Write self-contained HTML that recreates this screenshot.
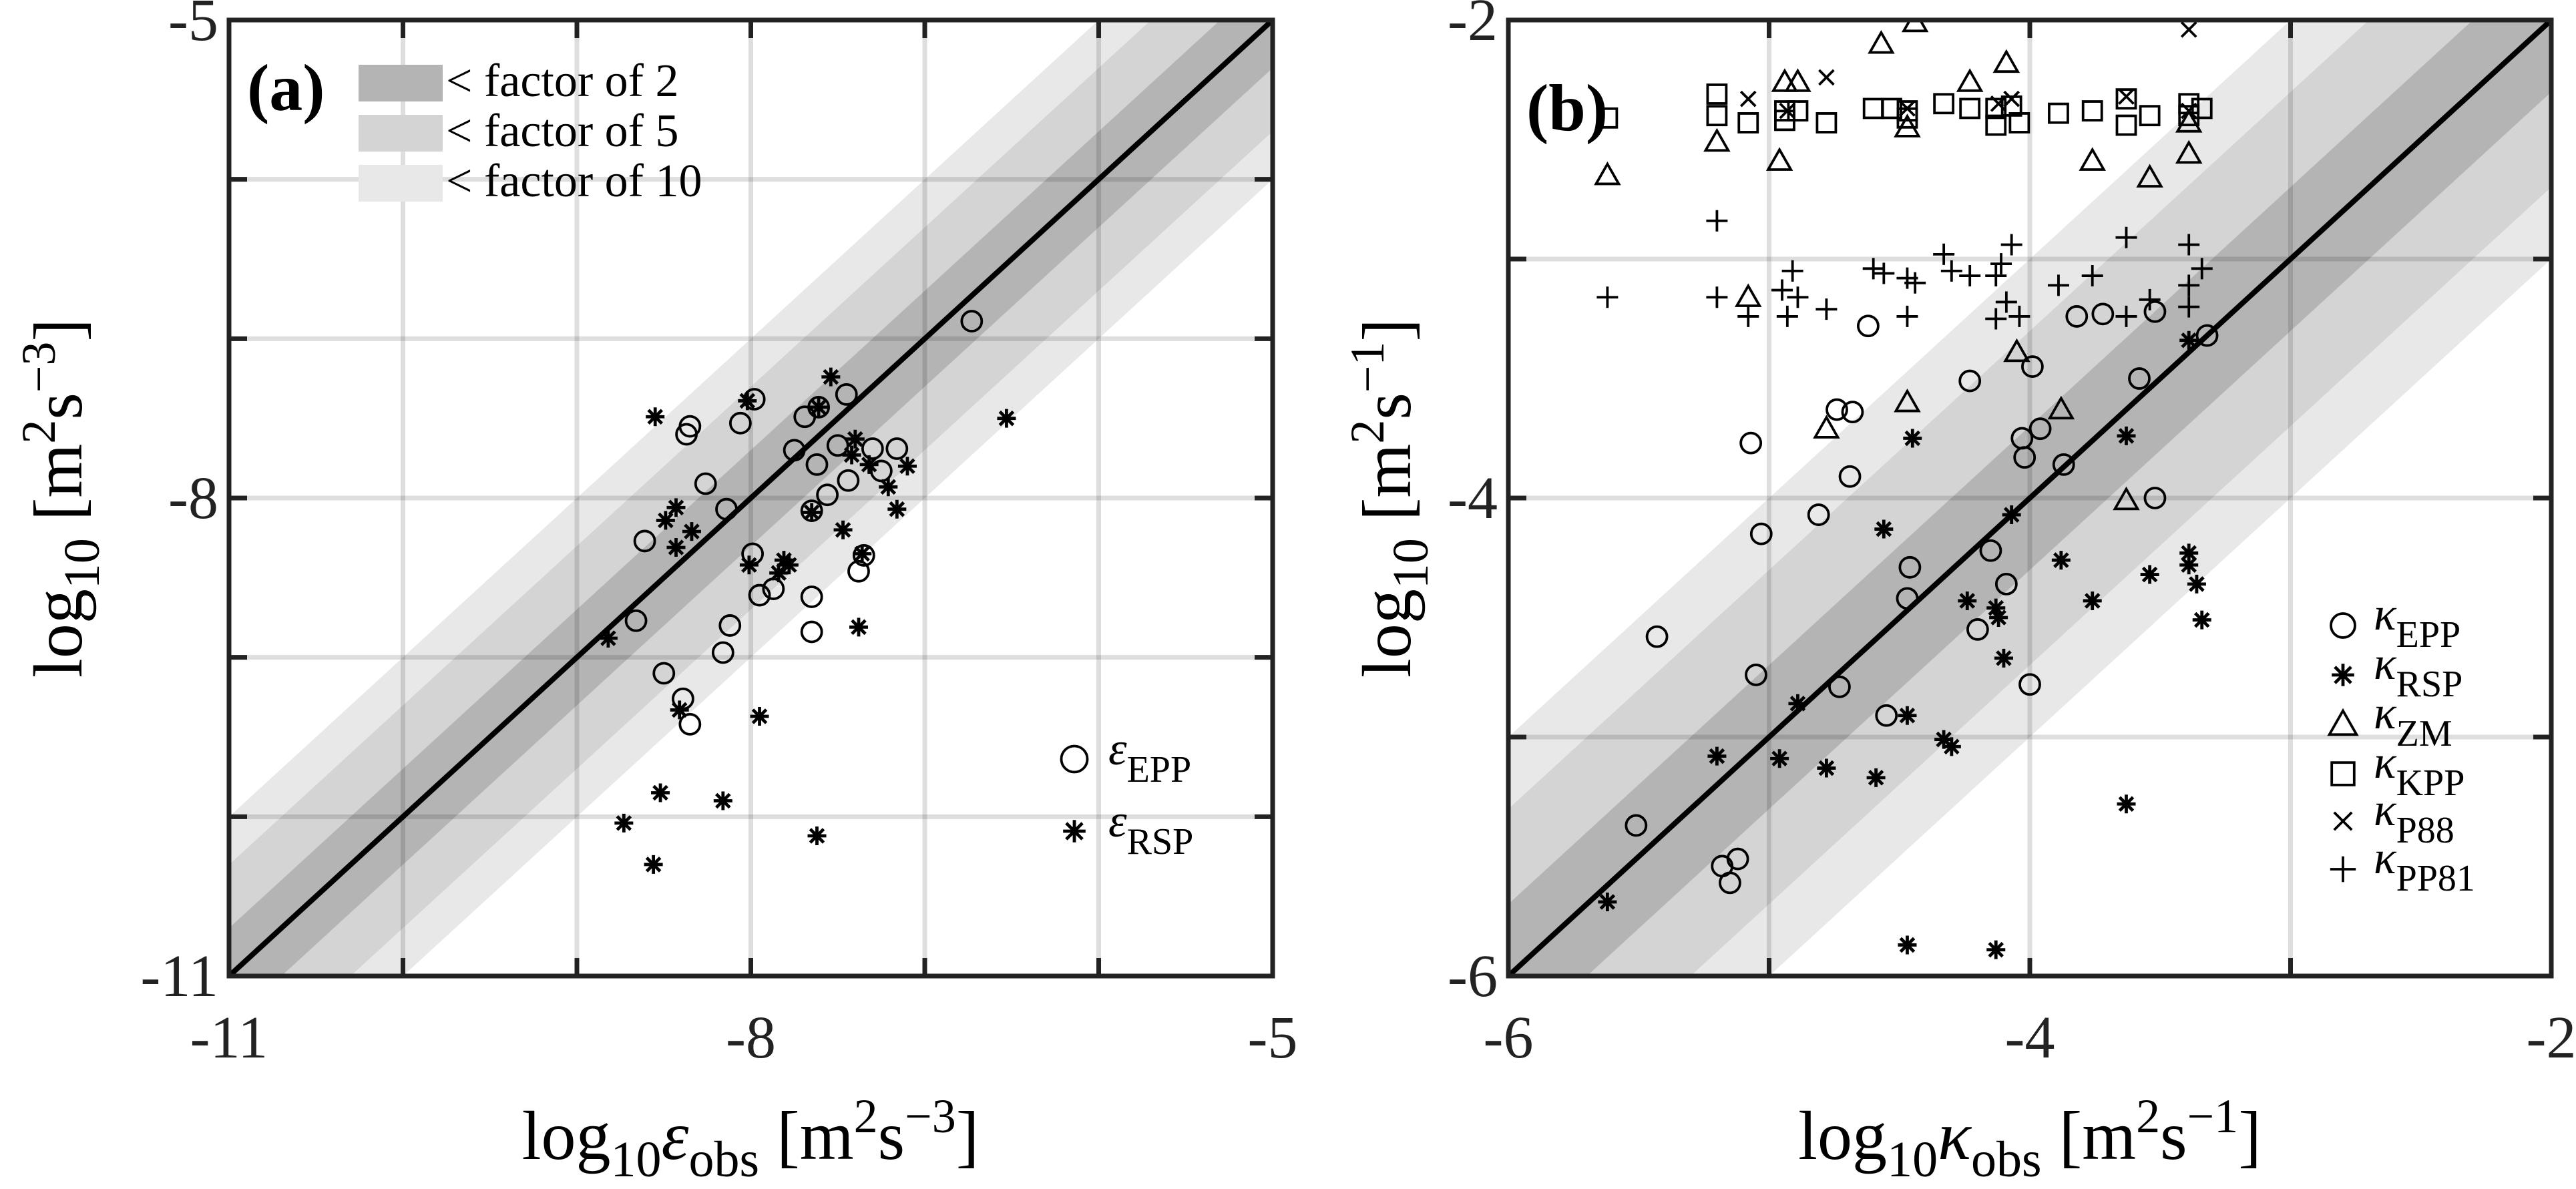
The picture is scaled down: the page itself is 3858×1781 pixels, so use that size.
<!DOCTYPE html>
<html><head><meta charset="utf-8"><style>
html,body{margin:0;padding:0;background:#fff;overflow:hidden;}
svg{display:block;font-family:"Liberation Serif",serif;}
</style></head><body>
<svg id="fig" width="3858" height="1781" viewBox="0 0 3858 1781" xmlns="http://www.w3.org/2000/svg">
<g id="pa"></g>
<g id="pb"></g>
</svg>
<script>
// ---- Panel (a) data ----
const aEppX=[-6.73,-7.98,-8.06,-8.35,-8.37,-7.69,-7.61,-7.45,-7.75,-7.50,-7.30,-7.16,-7.25,-7.62,-7.44,-7.56,-8.26,-8.14,-7.65,-8.61,-7.99,-7.35,-7.38,-7.87,-7.95,-7.65,-8.66,-8.12,-7.65,-8.16,-8.50,-8.39,-8.35];
const aEppY=[-6.89,-7.38,-7.53,-7.55,-7.60,-7.49,-7.43,-7.35,-7.70,-7.67,-7.69,-7.69,-7.83,-7.79,-7.89,-7.98,-7.91,-8.07,-8.08,-8.27,-8.35,-8.36,-8.46,-8.57,-8.61,-8.62,-8.77,-8.80,-8.84,-8.97,-9.10,-9.26,-9.42];
const aRspX=[-7.54,-8.02,-7.61,-8.55,-6.53,-7.40,-7.42,-7.32,-7.10,-7.21,-8.43,-8.49,-7.65,-7.16,-8.34,-7.47,-8.43,-7.81,-8.01,-7.78,-7.84,-7.36,-8.82,-7.38,-8.41,-7.95,-8.52,-8.16,-8.73,-7.62,-8.56];
const aRspY=[-7.24,-7.39,-7.43,-7.49,-7.50,-7.63,-7.73,-7.79,-7.80,-7.93,-8.06,-8.14,-8.09,-8.07,-8.21,-8.20,-8.31,-8.39,-8.42,-8.42,-8.47,-8.35,-8.88,-8.81,-9.33,-9.37,-9.85,-9.90,-10.04,-10.12,-10.30];
const aTicks=[-11,-10,-9,-8,-7,-6,-5];
const aTickLabels=["-11","-8","-5"];
// ---- Panel (b) data ----
const bEppX=[-3.32,-3.52,-3.72,-3.82,-4.62,-3.99,-4.23,-3.58,-4.74,-4.68,-3.96,-4.03,-4.02,-5.07,-3.87,-4.69,-3.52,-4.81,-5.03,-4.15,-4.46,-4.09,-4.47,-4.20,-5.43,-5.05,-4.73,-4.00,-4.55,-5.51,-5.12,-5.18,-5.15];
const bEppY=[-3.32,-3.22,-3.23,-3.24,-3.28,-3.45,-3.51,-3.50,-3.63,-3.64,-3.71,-3.75,-3.83,-3.77,-3.86,-3.91,-4.00,-4.07,-4.15,-4.22,-4.29,-4.36,-4.42,-4.55,-4.58,-4.74,-4.79,-4.78,-4.91,-5.37,-5.51,-5.54,-5.61];
const bRspX=[-3.39,-4.45,-3.63,-4.07,-4.56,-3.88,-3.39,-3.39,-3.54,-3.36,-4.24,-4.13,-4.12,-3.76,-3.34,-4.10,-4.89,-4.47,-5.20,-4.96,-4.33,-4.30,-4.78,-4.59,-3.63,-5.62,-4.47,-4.13];
const bRspY=[-3.34,-3.75,-3.74,-4.07,-4.13,-4.26,-4.23,-4.28,-4.32,-4.36,-4.43,-4.46,-4.50,-4.43,-4.51,-4.67,-4.86,-4.91,-5.08,-5.09,-5.01,-5.04,-5.13,-5.17,-5.28,-5.69,-5.87,-5.89];
const bZmX=[-4.44,-4.57,-4.09,-4.94,-4.89,-4.23,-4.47,-3.39,-5.20,-3.39,-4.96,-3.76,-5.62,-3.54,-5.08,-4.05,-4.47,-4.78,-3.88,-3.63];
const bZmY=[-2.01,-2.10,-2.18,-2.26,-2.26,-2.26,-2.45,-2.43,-2.51,-2.56,-2.59,-2.59,-2.65,-2.66,-3.16,-3.39,-3.60,-3.71,-3.63,-4.01];
const bKppX=[-5.62,-5.20,-5.20,-5.08,-4.94,-4.94,-4.89,-4.78,-4.60,-4.53,-4.47,-4.47,-4.33,-4.23,-4.13,-4.13,-4.07,-4.04,-3.89,-3.76,-3.63,-3.63,-3.54,-3.39,-3.34,-3.39];
const bKppY=[-2.41,-2.31,-2.40,-2.43,-2.38,-2.42,-2.38,-2.43,-2.37,-2.37,-2.38,-2.41,-2.35,-2.37,-2.37,-2.44,-2.36,-2.43,-2.39,-2.38,-2.33,-2.44,-2.40,-2.35,-2.37,-2.40];
const bP88X=[-3.39,-4.78,-5.08,-4.93,-4.47,-4.12,-4.07,-3.63,-3.39];
const bP88Y=[-2.04,-2.24,-2.33,-2.38,-2.37,-2.35,-2.33,-2.32,-2.38];
const bPpX=[-5.20,-3.63,-3.39,-4.33,-4.07,-4.60,-4.91,-4.56,-4.47,-4.44,-4.30,-4.23,-4.13,-4.11,-3.76,-3.34,-3.89,-3.39,-5.62,-5.20,-4.95,-4.89,-3.54,-3.39,-5.08,-4.93,-4.78,-4.47,-4.09,-4.13,-4.04,-3.63];
const bPpY=[-2.84,-2.91,-2.94,-2.98,-2.94,-3.04,-3.05,-3.06,-3.08,-3.10,-3.05,-3.07,-3.07,-3.02,-3.07,-3.04,-3.11,-3.11,-3.16,-3.16,-3.13,-3.16,-3.17,-3.20,-3.24,-3.24,-3.21,-3.24,-3.18,-3.25,-3.24,-3.24];
const bTicks=[-6,-5,-4,-3,-2];
const bTickLabels=["-6","-4","-2"];
const bandOffsets=[1,Math.log10(5),Math.log10(2)];
const bandColors=["#e8e8e8","#d4d4d4","#b4b4b4"];

const NS="http://www.w3.org/2000/svg";
function mk(tag,attrs,parent){const e=document.createElementNS(NS,tag);for(const k in attrs)e.setAttribute(k,attrs[k]);parent.appendChild(e);return e;}

function panel(g,cfg){
  const {x0,x1,y0,y1,min,max}=cfg;
  const sx=v=>x0+(v-min)/(max-min)*(x1-x0);
  const sy=v=>y1-(v-min)/(max-min)*(y1-y0);
  const clipId=cfg.id+"clip";
  const defs=mk('defs',{},g);
  const cp=mk('clipPath',{id:clipId},defs);
  mk('rect',{x:x0,y:y0,width:x1-x0,height:y1-y0},cp);
  const plot=mk('g',{'clip-path':`url(#${clipId})`},g);
  
  
  bandOffsets.forEach((d,i)=>{
    const p=mk('polygon',{points:`${sx(min-2)},${sy(min-2+d)} ${sx(max+2)},${sy(max+2+d)} ${sx(max+2)},${sy(max+2-d)} ${sx(min-2)},${sy(min-2-d)}`,fill:bandColors[i]},plot);
    
    
  });
  cfg.ticks.forEach(t=>{
    const l1=mk('line',{x1:sx(t),x2:sx(t),y1:y0,y2:y1,stroke:'rgba(0,0,0,0.13)','stroke-width':7},plot);
    
    
    const l2=mk('line',{x1:x0,x2:x1,y1:sy(t),y2:sy(t),stroke:'rgba(0,0,0,0.13)','stroke-width':7},plot);
    
    
  });
  const one=mk('line',{x1:sx(min),y1:sy(min),x2:sx(max),y2:sy(max),stroke:'#000','stroke-width':8},plot);
  
  
  cfg.ticks.forEach(t=>{
    [[sx(t),y0,sx(t),y0+27],[sx(t),y1,sx(t),y1-27],[x0,sy(t),x0+27,sy(t)],[x1,sy(t),x1-27,sy(t)]].forEach(c=>{
      const tk=mk('line',{x1:c[0],y1:c[1],x2:c[2],y2:c[3],stroke:'#222','stroke-width':7},g);
      
      
    });
  });
  cfg.series.forEach(s=>{
    const sg=mk('g',{},plot);
    
    
    s.xs.forEach((v,i)=>{drawMarker(sg,s.m,sx(v),sy(s.ys[i]),s.name,1);});
  });
  const frame=mk('rect',{x:x0,y:y0,width:x1-x0,height:y1-y0,fill:'none',stroke:'#222','stroke-width':7},g);
  
  
  cfg.labels.forEach(lb=>{
    const v=parseFloat(lb);
    const tx=mk('text',{x:sx(v),y:y1+122,'font-size':90,'text-anchor':'middle',fill:'#222'},g);
    tx.textContent=lb;
    
    
    const ty=mk('text',{x:x0-16,y:sy(v)+30,'font-size':90,'text-anchor':'end',fill:'#222'},g);
    ty.textContent=lb;
    
    
  });
  return {sx,sy};
}
function drawMarker(p,m,x,y,name,k){
  let e;
  const st={fill:'none',stroke:'#000','stroke-width':3.8};
  if(m==='o'){e=mk('circle',Object.assign({cx:x,cy:y,r:15*k},st),p);}
  else if(m==='*'){const r=14*k;e=mk('path',Object.assign({d:`M${x-r},${y}H${x+r}M${x},${y-r}V${y+r}M${x-r*0.72},${y-r*0.72}L${x+r*0.72},${y+r*0.72}M${x-r*0.72},${y+r*0.72}L${x+r*0.72},${y-r*0.72}`},st,{'stroke-width':4.8}),p);}
  else if(m==='^'){const r=17*k;e=mk('polygon',Object.assign({points:`${x},${y-r} ${x-r},${y+r*0.75} ${x+r},${y+r*0.75}`},st),p);}
  else if(m==='s'){const r=14*k;e=mk('rect',Object.assign({x:x-r,y:y-r,width:2*r,height:2*r},st),p);}
  else if(m==='x'){const r=11*k;e=mk('path',Object.assign({d:`M${x-r},${y-r}L${x+r},${y+r}M${x-r},${y+r}L${x+r},${y-r}`},st),p);}
  else if(m==='+'){const r=16*k;e=mk('path',Object.assign({d:`M${x-r},${y}H${x+r}M${x},${y-r}V${y+r}`},st),p);}
  
  
  return e;
}
const pa=document.getElementById('pa'), pb=document.getElementById('pb');
panel(pa,{id:'a',x0:343,x1:1906,y0:30,y1:1462,min:-11,max:-5,ticks:aTicks,labels:aTickLabels,
  series:[{name:'eps-epp',m:'o',xs:aEppX,ys:aEppY},{name:'eps-rsp',m:'*',xs:aRspX,ys:aRspY}]});
panel(pb,{id:'b',x0:2259,x1:3821,y0:30,y1:1462,min:-6,max:-2,ticks:bTicks,labels:bTickLabels,
  series:[{name:'kappa-epp',m:'o',xs:bEppX,ys:bEppY},{name:'kappa-rsp',m:'*',xs:bRspX,ys:bRspY},{name:'kappa-zm',m:'^',xs:bZmX,ys:bZmY},{name:'kappa-kpp',m:'s',xs:bKppX,ys:bKppY},{name:'kappa-p88',m:'x',xs:bP88X,ys:bP88Y},{name:'kappa-pp81',m:'+',xs:bPpX,ys:bPpY}]});

function txt(parent,html,attrs,name){const t=mk('text',attrs,parent);t.innerHTML=html;return t;}
txt(pa,'(a)',{x:370,y:165,'font-size':100,'font-weight':'bold'},'panel-label-a');
txt(pb,'(b)',{x:2286,y:195,'font-size':100,'font-weight':'bold'},'panel-label-b');
const legA=mk('g',{},pa);


[["#b4b4b4","&lt; factor of 2",97],["#d4d4d4","&lt; factor of 5",172],["#e8e8e8","&lt; factor of 10",247]].forEach(r=>{
  const rc=mk('rect',{x:537,y:r[2],width:126,height:55,fill:r[0]},legA);
  
  
  txt(legA,r[1],{x:668,y:r[2]+47,'font-size':70},'legend-text');
});
const lgA=mk('g',{},pa);


drawMarker(lgA,'o',1609,1137,'legend',1.3);
drawMarker(lgA,'*',1609,1245,'legend',1.2);
txt(lgA,'<tspan font-style="italic">ε</tspan><tspan font-size="56" dy="26">EPP</tspan>',{x:1660,y:1145,'font-size':70},'legend-entry-eps-epp');
txt(lgA,'<tspan font-style="italic">ε</tspan><tspan font-size="56" dy="26">RSP</tspan>',{x:1660,y:1253,'font-size':70},'legend-entry-eps-rsp');
const lgB=mk('g',{},pb);


[['o','EPP',937],['*','RSP',1011],['^','ZM',1085],['s','KPP',1159],['x','P88',1230],['+','PP81',1302]].forEach(r=>{
  drawMarker(lgB,r[0],3509,r[2],'legend',1.2);
  txt(lgB,'<tspan font-style="italic">κ</tspan><tspan font-size="56" dy="26">'+r[1]+'</tspan>',{x:3555,y:r[2]+6,'font-size':70},'legend-entry-kappa-'+r[1].toLowerCase());
});
txt(pa,'log<tspan font-size="76" dy="26">10</tspan><tspan dy="-26" font-style="italic">ε</tspan><tspan font-size="76" dy="26">obs</tspan><tspan dy="-26"> [m</tspan><tspan font-size="72" dy="-40">2</tspan><tspan dy="40">s</tspan><tspan font-size="72" dy="-40">−3</tspan><tspan dy="40">]</tspan>',{x:1124,y:1736,'font-size':104,'text-anchor':'middle'},'x-axis-title-a');
txt(pb,'log<tspan font-size="76" dy="26">10</tspan><tspan dy="-26" font-style="italic">κ</tspan><tspan font-size="76" dy="26">obs</tspan><tspan dy="-26"> [m</tspan><tspan font-size="72" dy="-40">2</tspan><tspan dy="40">s</tspan><tspan font-size="72" dy="-40">−1</tspan><tspan dy="40">]</tspan>',{x:3040,y:1736,'font-size':104,'text-anchor':'middle'},'x-axis-title-b');
txt(pa,'log<tspan font-size="76" dy="26">10</tspan><tspan dy="-26"> [m</tspan><tspan font-size="72" dy="-40">2</tspan><tspan dy="40">s</tspan><tspan font-size="72" dy="-40">−3</tspan><tspan dy="40">]</tspan>',{x:0,y:0,'font-size':104,'text-anchor':'middle',transform:'translate(122,746) rotate(-90)'},'y-axis-title-a');
txt(pb,'log<tspan font-size="76" dy="26">10</tspan><tspan dy="-26"> [m</tspan><tspan font-size="72" dy="-40">2</tspan><tspan dy="40">s</tspan><tspan font-size="72" dy="-40">−1</tspan><tspan dy="40">]</tspan>',{x:0,y:0,'font-size':104,'text-anchor':'middle',transform:'translate(2112,746) rotate(-90)'},'y-axis-title-b');
</script>
</body></html>
